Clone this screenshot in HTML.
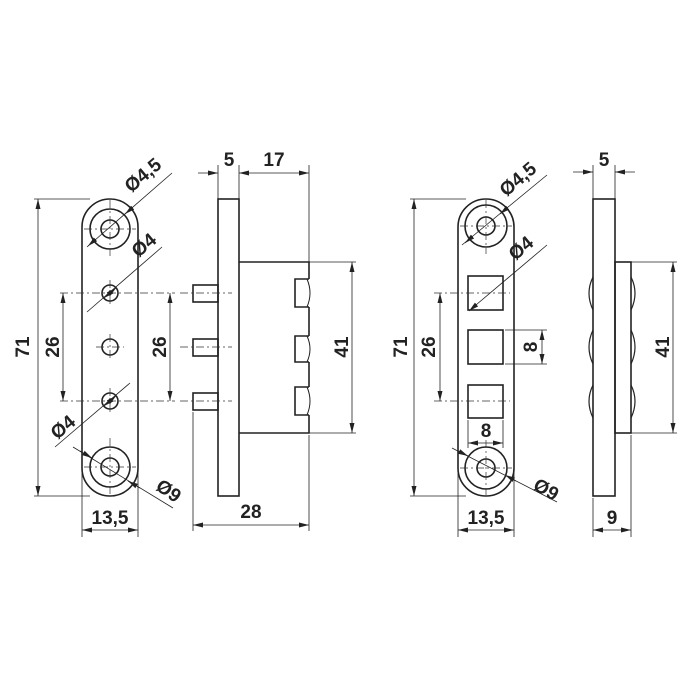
<!DOCTYPE html>
<html><head><meta charset="utf-8"><style>html,body{margin:0;padding:0;background:#fff}svg{display:block}</style></head>
<body>
<svg width="700" height="700" viewBox="0 0 700 700" xmlns="http://www.w3.org/2000/svg" font-family="Liberation Sans, sans-serif" font-weight="bold" font-size="19" fill="none">
<defs>
<marker id="a" viewBox="0 0 10 6" refX="10" refY="3" markerWidth="10" markerHeight="6" orient="auto-start-reverse" markerUnits="userSpaceOnUse"><path d="M0,0.5 L10,3 L0,5.5 Z" fill="#222"/></marker>
</defs>
<g stroke="#222" stroke-width="1.6">
<path d="M82,227 A28,28 0 0 1 138,227 L138,468 A28,28 0 0 1 82,468 Z"/>
<circle cx="110" cy="229" r="20"/><circle cx="110" cy="229" r="9"/>
<circle cx="110" cy="467" r="20"/><circle cx="110" cy="467" r="9"/>
<circle cx="110" cy="293" r="8"/><circle cx="110" cy="347" r="8"/><circle cx="110" cy="401" r="8"/>
<rect x="218" y="199" width="21" height="297"/>
<path d="M239,262 H309 V279 M309,307 V336 M309,362 V387 M309,415 V433 H239"/>
<path d="M309,279 H295 V307 H309 M309,336 H295 V362 H309 M309,387 H295 V415 H309"/>
<path d="M307,279 Q313,293 307,307 M307,336 Q313,349 307,362 M307,387 Q313,401 307,415" stroke-width="1"/>
<rect x="193" y="285" width="25" height="17"/><rect x="193" y="339" width="25" height="17"/><rect x="193" y="393" width="25" height="17"/>
<path d="M458,227 A28,28 0 0 1 514,227 L514,468 A28,28 0 0 1 458,468 Z"/>
<circle cx="486" cy="226" r="21"/><circle cx="486" cy="226" r="9"/>
<circle cx="486" cy="468" r="21"/><circle cx="486" cy="468" r="9"/>
<rect x="468" y="276" width="35" height="34"/><rect x="468" y="330" width="35" height="34"/><rect x="468" y="385" width="35" height="33"/>
<rect x="593" y="199" width="22" height="297"/>
<rect x="615" y="262" width="16" height="171"/>
<path d="M593,277 Q585,293 593,310 M593,330 Q585,347 593,364 M593,385 Q585,401 593,418 M631,277 Q639,293 631,310 M631,330 Q639,347 631,364 M631,385 Q639,401 631,418" stroke-width="1.2"/>
</g>
<g stroke="#333" stroke-width="0.7" stroke-dasharray="8,3,2,3">
<path d="M110,200 V258 M84,229 H136 M110,438 V495 M84,467 H136"/>
<path d="M110,280 V306 M96,347 H124 M110,334 V360 M110,388 V414"/>
<path d="M60,293 H175 M60,401 H175"/>
<path d="M180,293 H232 M180,347 H232 M180,401 H232"/>
<path d="M486,200 V254 M460,226 H512 M486,440 V495 M460,468 H512"/>
<path d="M434,293 H510 M434,401 H510"/>
</g>
<g stroke="#222" stroke-width="0.8">
<path d="M34,199 H90 M34,496 H90"/>
<path d="M38,199 V496" marker-start="url(#a)" marker-end="url(#a)"/>
<path d="M63,293 V401" marker-start="url(#a)" marker-end="url(#a)"/>
<path d="M170,293 V401" marker-start="url(#a)" marker-end="url(#a)"/>
<path d="M82,470 V537 M138,470 V537"/>
<path d="M82,530 H138" marker-start="url(#a)" marker-end="url(#a)"/>
<path d="M87,247 L172,173"/><path d="M96,239 L88,246" marker-end="url(#a)"/><path d="M125,214 L131,209" marker-start="url(#a)"/>
<path d="M87,312 L162,247"/><path d="M104,298 L116,288" marker-end="url(#a)" marker-start="url(#a)"/>
<path d="M55,447 L130,383"/><path d="M104,406 L116,396" marker-end="url(#a)" marker-start="url(#a)"/>
<path d="M73,447 L173,508"/><path d="M80,451 L92,458" marker-end="url(#a)"/><path d="M128,481 L140,488" marker-start="url(#a)"/>
<path d="M218,165 V199 M239,165 V199 M309,165 V262"/>
<path d="M198,173 H218" marker-end="url(#a)"/><path d="M239,173 H309" marker-start="url(#a)" marker-end="url(#a)"/>
<path d="M309,262 H356 M309,433 H356"/>
<path d="M352,262 V433" marker-start="url(#a)" marker-end="url(#a)"/>
<path d="M193,412 V531 M309,435 V531"/>
<path d="M193,525 H309" marker-start="url(#a)" marker-end="url(#a)"/>
<path d="M410,199 H466 M410,496 H466"/>
<path d="M414,199 V496" marker-start="url(#a)" marker-end="url(#a)"/>
<path d="M440,293 V401" marker-start="url(#a)" marker-end="url(#a)"/>
<path d="M505,330 H547 M505,364 H547"/>
<path d="M542,330 V364" marker-start="url(#a)" marker-end="url(#a)"/>
<path d="M468,420 V448 M503,420 V448"/>
<path d="M468,443 H503" marker-start="url(#a)" marker-end="url(#a)"/>
<path d="M458,470 V537 M514,470 V537"/>
<path d="M458,530 H514" marker-start="url(#a)" marker-end="url(#a)"/>
<path d="M462,245 L547,175"/><path d="M472,237 L465,243" marker-end="url(#a)"/><path d="M500,214 L506,209" marker-start="url(#a)"/>
<path d="M470,310 L547,245"/><path d="M476,305 L469,311" marker-end="url(#a)"/>
<path d="M452,448 L557,502"/><path d="M458,451 L468,456" marker-end="url(#a)"/><path d="M505,475 L516,481" marker-start="url(#a)"/>
<path d="M593,165 V199 M615,165 V199"/>
<path d="M573,172 H593" marker-end="url(#a)"/><path d="M635,172 H615" marker-end="url(#a)"/>
<path d="M631,262 H677 M631,433 H677"/>
<path d="M673,262 V433" marker-start="url(#a)" marker-end="url(#a)"/>
<path d="M593,498 V537 M631,435 V537"/>
<path d="M593,530 H631" marker-start="url(#a)" marker-end="url(#a)"/>
</g>
<g fill="#222" text-anchor="middle">
<text transform="translate(29,347) rotate(-90)">71</text>
<text transform="translate(59,347) rotate(-90)">26</text>
<text transform="translate(166,347) rotate(-90)">26</text>
<text x="110" y="524">13,5</text>
<text transform="translate(147,180) rotate(-40)">Ø4,5</text>
<text transform="translate(148,250) rotate(-40)">Ø4</text>
<text transform="translate(67,432) rotate(-40)">Ø4</text>
<text transform="translate(165,496) rotate(35)">Ø9</text>
<text x="229" y="166">5</text>
<text x="274" y="166">17</text>
<text transform="translate(348,347) rotate(-90)">41</text>
<text x="251" y="518">28</text>
<text transform="translate(407,347) rotate(-90)">71</text>
<text transform="translate(435,347) rotate(-90)">26</text>
<text transform="translate(537,347) rotate(-90)">8</text>
<text x="486" y="437">8</text>
<text x="486" y="524">13,5</text>
<text transform="translate(522,184) rotate(-40)">Ø4,5</text>
<text transform="translate(525,253) rotate(-40)">Ø4</text>
<text transform="translate(543,495) rotate(30)">Ø9</text>
<text x="604" y="166">5</text>
<text transform="translate(669,347) rotate(-90)">41</text>
<text x="612" y="524">9</text>
</g>
</svg>
</body></html>
